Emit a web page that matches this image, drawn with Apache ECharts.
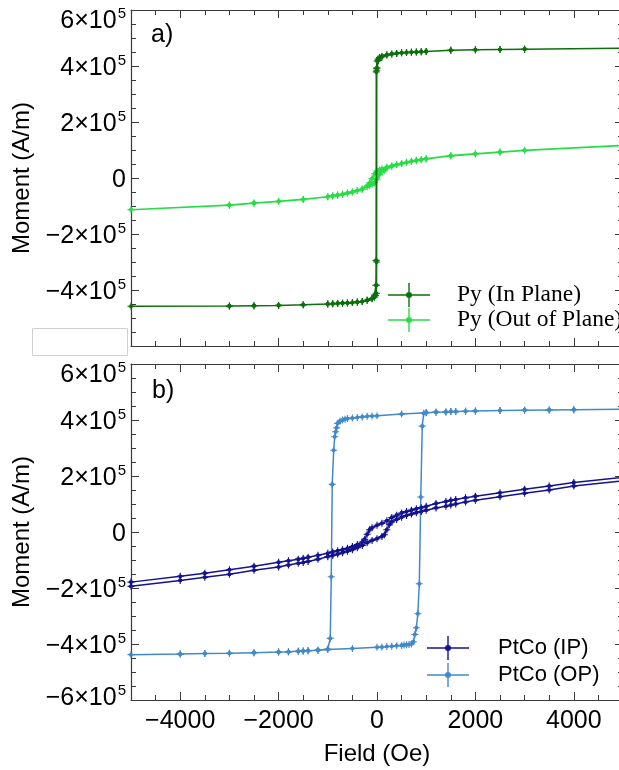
<!DOCTYPE html>
<html>
<head>
<meta charset="utf-8">
<script src="https://cdn.jsdelivr.net/npm/echarts@6/dist/echarts.min.js"></script>
<style>
html,body{margin:0;padding:0;background:#fff;}
#chart{width:619px;height:770px;}
</style>
</head>
<body>
<div id="chart"></div>
<script>
// ---------------- DATA ----------------
const seriesNames = ['Py (In Plane)', 'Py (Out of Plane)', 'PtCo (IP)', 'PtCo (OP)'];
const fieldRange = [-5000, 5000];
const momentRange = [-600000, 600000];

// Py in plane: descending then ascending branch
const pyIpDescField = [5000,3000,2500,2000,1500,1000,900,800,700,600,500,400,300,200,100,50,20,0,-10,-15,-18,-22,-50,-100,-200,-300,-400,-500,-600,-700,-800,-900,-1000,-1500,-2000,-2500,-3000,-5000];
const pyIpDescMoment = [464000,460000,459000,458000,456000,452000,451000,450000,449000,448000,447000,445000,443000,440000,435000,430000,425000,418000,392000,379000,-294000,-383000,-418000,-430000,-437000,-441000,-443000,-445000,-446000,-447000,-448000,-449000,-450000,-453000,-455000,-456000,-457000,-458000];
const pyIpAscField = [-3000,-2500,-2000,-1500,-1000,-900,-800,-700,-600,-500,-400,-300,-200,-100,-50,-30,-15,-10,-8,-5,0,30,100,200,300,400,500,600,700,800,900,1000,1500,2000,2500,3000,5000];
const pyIpAscMoment = [-457000,-456000,-455000,-453000,-450000,-449000,-448000,-447000,-446000,-445000,-443000,-441000,-437000,-431000,-426000,-420000,-412000,-383000,-300000,385000,393000,420000,432000,439000,443000,445000,447000,448000,449000,450000,451000,452000,456000,458000,459000,460000,464000];

// Py out of plane
const pyOpDescField = [5000,3000,2500,2000,1500,1000,900,800,700,600,500,400,300,200,100,50,0,-50,-100,-150,-200,-300,-400,-500,-600,-700,-800,-900,-1000,-1500,-2000,-2500,-3000,-5000];
const pyOpDescMoment = [117000,99000,93000,87000,80000,69000,66000,63000,60000,56000,52000,48000,43000,39000,33000,29000,24000,15000,-2000,-18000,-28000,-40000,-45000,-50000,-54000,-58000,-61000,-64000,-67000,-76000,-83000,-89000,-96000,-113000];
const pyOpAscField = [-3000,-2500,-2000,-1500,-1000,-900,-800,-700,-600,-500,-400,-300,-200,-150,-100,-50,0,50,100,150,200,300,400,500,600,700,800,900,1000,1500,2000,2500,3000,5000];
const pyOpAscMoment = [-97000,-90000,-84000,-77000,-67000,-64000,-61000,-58000,-54000,-50000,-45000,-40000,-31000,-27000,-23000,-16000,-4000,12000,22000,28000,35000,42000,47000,51000,55000,59000,62000,65000,68000,79000,86000,92000,98000,116000];

// PtCo in plane
const ptIpDescField = [5000,4000,3500,3000,2500,2000,1800,1600,1500,1400,1200,1000,900,800,700,600,500,400,300,200,100,0,-100,-150,-200,-250,-300,-400,-500,-600,-700,-800,-900,-1000,-1200,-1400,-1500,-1600,-1800,-2000,-2500,-3000,-3500,-4000,-5000];
const ptIpDescMoment = [195000,177000,164000,153000,140000,128000,122000,116000,113000,109000,102000,92000,87000,83000,78000,73000,68000,60000,52000,40000,31000,24000,15000,8000,-8000,-26000,-36000,-45000,-52000,-58000,-63000,-67000,-71000,-76000,-83000,-90000,-94000,-97000,-103000,-108000,-122000,-135000,-147000,-158000,-179000];
const ptIpAscField = [-5000,-4000,-3500,-3000,-2500,-2000,-1800,-1600,-1500,-1400,-1200,-1000,-900,-800,-700,-600,-500,-400,-300,-200,-100,0,100,150,200,250,300,400,500,600,700,800,900,1000,1200,1400,1500,1600,1800,2000,2500,3000,3500,4000,5000];
const ptIpAscMoment = [-194000,-173000,-162000,-151000,-137000,-125000,-118000,-112000,-109000,-105000,-97000,-88000,-84000,-79000,-74000,-69000,-63000,-56000,-48000,-38000,-30000,-24000,-16000,-10000,8000,26000,36000,45000,53000,59000,64000,69000,73000,78000,86000,92000,96000,100000,107000,113000,126000,138000,150000,164000,183000];

// PtCo out of plane
const ptOpDescField = [5000,4000,3500,3000,2500,2000,1800,1600,1500,1400,1200,1000,500,0,-100,-200,-300,-400,-500,-600,-650,-700,-750,-800,-820,-840,-860,-880,-910,-930,-950,-1000,-1200,-1400,-1500,-1600,-1800,-2000,-2500,-3000,-3500,-4000,-5000];
const ptOpDescMoment = [439000,437000,436000,435000,434000,432000,431000,430000,430000,429000,428000,426000,421000,415000,414000,413000,411000,409000,407000,405000,403000,400000,396000,388000,372000,358000,340000,292000,170000,-160000,-380000,-418000,-422000,-424000,-425000,-426000,-428000,-429000,-431000,-433000,-434000,-436000,-438000];
const ptOpAscField = [-4000,-3500,-3000,-2500,-2000,-1800,-1600,-1500,-1400,-1200,-1000,-500,0,100,200,300,400,500,550,600,650,700,740,770,800,830,860,890,920,950,1000,1200,1400,1500,1600,1800,2000,2500,3000,3500,4000,5000];
const ptOpAscMoment = [-436000,-434000,-433000,-431000,-429000,-428000,-426000,-425000,-424000,-422000,-420000,-416000,-412000,-411000,-409000,-408000,-406000,-405000,-404000,-403000,-402000,-400000,-392000,-366000,-342000,-292000,-185000,125000,378000,424000,427000,428000,429000,430000,430000,431000,432000,434000,435000,436000,437000,439000];

// ---------------- BUILD ----------------
function zip(fx, my){ return fx.map((f,i)=>[f, my[i]]); }
function loop(f1,m1,f2,m2){ return zip(f1,m1).concat(zip(f2,m2)); }

const colors = ['#0b700b', '#27dd45', '#13138f', '#4189c7'];
const markerPath = 'path://M4.2,0H5.8V10H4.2Z M0,4.2H10V5.8H0Z M8,5A3,3 0 1 1 2,5A3,3 0 1 1 8,5Z';
const legendIcon = 'path://M0,11.3H42V12.7H0Z M20.3,0H21.7V24H20.3Z M24,12A3,3 0 1 1 18,12A3,3 0 1 1 24,12Z';

const sansFont = '"Liberation Sans", Arial, Helvetica, sans-serif';
const serifFont = '"Liberation Serif", "Times New Roman", serif';
const frameColor = '#3a3a3a';

function yFmt(v){
  if (v === 0) return '{m|0}';
  const c = Math.round(v / 1e5);
  const txt = '{m|' + (c < 0 ? '\u2212' : '') + Math.abs(c) + '\u00d710}{s|5}';
  if (v === momentRange[1]) return '{spT| }\n' + txt;
  if (v === momentRange[0]) return txt + '\n{spB| }';
  return txt;
}
function xFmt(v){
  if (v === 0) return '0';
  return (v < 0 ? '\u2212' : '') + Math.abs(v);
}

function xAx(grid, pos, labels, name){
  return {
    type: 'value', gridIndex: grid, position: pos,
    min: fieldRange[0], max: fieldRange[1], splitNumber: 5,
    axisLine: {show: true, onZero: false, lineStyle: {color: frameColor, width: 1.2}},
    axisTick: {show: true, inside: true, length: 8, lineStyle: {color: frameColor, width: 1}},
    minorTick: {show: true, splitNumber: 4, length: 5, lineStyle: {color: frameColor, width: 1}},
    splitLine: {show: false},
    axisLabel: {show: labels, margin: 9, fontSize: 25, color: '#000', fontFamily: sansFont, formatter: xFmt,
      showMinLabel: false, showMaxLabel: false, hideOverlap: false},
    name: name || '', nameLocation: 'middle', nameGap: 42,
    nameTextStyle: {fontSize: 24, color: '#000', fontFamily: sansFont}
  };
}
function yAx(grid, pos, labels, name){
  return {
    type: 'value', gridIndex: grid, position: pos,
    min: momentRange[0], max: momentRange[1], interval: 200000,
    axisLine: {show: true, onZero: false, lineStyle: {color: frameColor, width: 1.2}},
    axisTick: {show: true, inside: true, length: 8, lineStyle: {color: frameColor, width: 1}},
    minorTick: {show: true, splitNumber: 4, length: 5, lineStyle: {color: frameColor, width: 1}},
    splitLine: {show: false},
    axisLabel: {
      show: labels, margin: 5, color: '#000', formatter: yFmt, hideOverlap: false,
      rich: {
        m: {fontSize: 25, fontFamily: sansFont, color: '#000', lineHeight: 25, padding: [5,0,0,0]},
        s: {fontSize: 15, fontFamily: sansFont, color: '#000', verticalAlign: 'top', lineHeight: 15, padding: [0,0,0,1]},
        spT: {fontSize: 2, lineHeight: 18},
        spB: {fontSize: 2, lineHeight: 8}
      }
    },
    name: name || '', nameLocation: 'middle', nameGap: 93,
    nameTextStyle: {fontSize: 24, color: '#000', fontFamily: sansFont}
  };
}

function mkSeries(name, data, color, xi, yi, z){
  return {
    name: name, type: 'line', data: data, xAxisIndex: xi, yAxisIndex: yi,
    symbol: markerPath, symbolSize: 7, showSymbol: true, showAllSymbol: true,
    lineStyle: {color: color, width: 1.5}, itemStyle: {color: color},
    color: color, z: z, clip: true, animation: false, emphasis: {disabled: true}
  };
}

const option = {
  animation: false,
  backgroundColor: '#fff',
  grid: [
    {left: 131, top: 10, width: 492, height: 336, outerBoundsMode: 'none', containLabel: false},
    {left: 131, top: 364, width: 492, height: 336, outerBoundsMode: 'none', containLabel: false}
  ],
  xAxis: [
    xAx(0, 'bottom', false), xAx(0, 'top', false),
    xAx(1, 'bottom', true, 'Field (Oe)'), xAx(1, 'top', false)
  ],
  yAxis: [
    yAx(0, 'left', true, 'Moment (A/m)'), yAx(0, 'right', false),
    yAx(1, 'left', true, 'Moment (A/m)'), yAx(1, 'right', false)
  ],
  title: [
    {text: 'a)', left: 151, top: 23, padding: 0, textStyle: {fontSize: 25, fontWeight: 'normal', color: '#000', fontFamily: sansFont}},
    {text: 'b)', left: 152, top: 379, padding: 0, textStyle: {fontSize: 25, fontWeight: 'normal', color: '#000', fontFamily: sansFont}}
  ],
  legend: [
    {
      data: [{name: seriesNames[0], icon: legendIcon}, {name: seriesNames[1], icon: legendIcon}],
      orient: 'vertical', left: 388, top: 283, itemWidth: 42, itemHeight: 24, itemGap: 1, padding: 0,
      selectedMode: false,
      formatter: n => '{g|}' + n,
      textStyle: {fontSize: 23.5, fontFamily: serifFont, color: '#000', lineHeight: 24, rich: {g: {width: 22}}}
    },
    {
      data: [{name: seriesNames[2], icon: legendIcon}, {name: seriesNames[3], icon: legendIcon}],
      orient: 'vertical', left: 427, top: 636, itemWidth: 42, itemHeight: 24, itemGap: 3, padding: 0,
      selectedMode: false,
      formatter: n => '{g|}' + n,
      textStyle: {fontSize: 22, fontFamily: sansFont, color: '#000', lineHeight: 24, rich: {g: {width: 24}}}
    }
  ],
  graphic: [
    {type: 'rect', z: 100, shape: {x: 32.5, y: 328.5, width: 95, height: 27}, style: {fill: '#fff', stroke: '#d0d0d0', lineWidth: 1}}
  ],
  series: [
    mkSeries(seriesNames[0], loop(pyIpDescField, pyIpDescMoment, pyIpAscField, pyIpAscMoment), colors[0], 0, 0, 4),
    mkSeries(seriesNames[1], loop(pyOpDescField, pyOpDescMoment, pyOpAscField, pyOpAscMoment), colors[1], 0, 0, 3),
    mkSeries(seriesNames[2], loop(ptIpDescField, ptIpDescMoment, ptIpAscField, ptIpAscMoment), colors[2], 2, 2, 4),
    mkSeries(seriesNames[3], loop(ptOpDescField, ptOpDescMoment, ptOpAscField, ptOpAscMoment), colors[3], 2, 2, 3)
  ]
};

const chart = echarts.init(document.getElementById('chart'), null, {renderer: 'canvas'});
chart.setOption(option);
</script>
</body>
</html>
